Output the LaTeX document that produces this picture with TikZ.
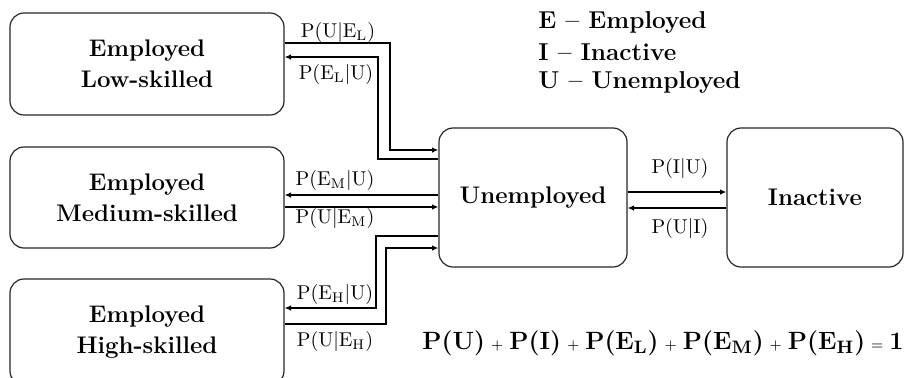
\documentclass[tikz,border=0pt]{standalone}
\usetikzlibrary{arrows.meta}
\newcommand{\opsym}[1]{\hspace{3pt}{\mdseries\scriptsize #1}\hspace{3pt}}
\begin{document}
\begin{tikzpicture}[x=0.5pt,y=-0.5pt,
  state/.style={draw=black!85,line width=0.6pt,rounded corners=7pt,align=center,font=\fontsize{12}{15.5}\selectfont\bfseries,inner sep=0pt},
  conn/.style={line width=1pt,-{Latex[length=3.2pt,width=2.8pt]}},
  lab/.style={font=\fontsize{10}{12}\selectfont,inner sep=0pt},
  legend/.style={font=\fontsize{12.2}{14}\selectfont\bfseries,anchor=west,inner sep=0pt}]
\useasboundingbox (0,0) rectangle (906,377);
\clip (0,0) rectangle (906,377);
\node[state,minimum width=137pt,minimum height=51pt] (L) at (147,64) {Employed\\Low-skilled};
\node[state,minimum width=137pt,minimum height=50.5pt] (M) at (147,197.5) {Employed\\Medium-skilled};
\node[state,minimum width=137pt,minimum height=53pt] (H) at (147,332) {Employed\\High-skilled};
\node[state,minimum width=94pt,minimum height=69.5pt] (U) at (533,197.5) {Unemployed};
\node[state,minimum width=88pt,minimum height=69.5pt] (I) at (815,197.5) {Inactive};
% L
\draw[conn] (L.east |- 0,43) -| (390,150) -- (U.west |- 0,150);
\draw[conn] (U.west |- 0,159) -| (378,57) -- (L.east |- 0,57);
% M
\draw[conn] (U.west |- 0,195) -- (M.east |- 0,195);
\draw[conn] (M.east |- 0,207) -- (U.west |- 0,207);
% H
\draw[conn] (U.west |- 0,236) -| (376,308) -- (H.east |- 0,308);
\draw[conn] (H.east |- 0,324) -| (386,248) -- (U.west |- 0,248);
% I
\draw[conn] (U.east |- 0,192) -- (I.west |- 0,192);
\draw[conn] (I.west |- 0,208) -- (U.east |- 0,208);
% labels
\node[lab] (l1) at (338,32) {P(U$|$E$_{\mathrm{L}}$)};
\node[lab] (l2) at (336,74) {P(E$_{\mathrm{L}}|$U)};
\node[lab] (l3) at (335,180) {P(E$_{\mathrm{M}}|$U)};
\node[lab] (l4) at (335,218) {P(U$|$E$_{\mathrm{M}}$)};
\node[lab] (l5) at (335,294) {P(E$_{\mathrm{H}}|$U)};
\node[lab] (l6) at (335,341) {P(U$|$E$_{\mathrm{H}}$)};
\node[lab] (l7) at (680,168) {P(I$|$U)};
\node[lab] (l8) at (680,228) {P(U$|$I)};
% legend
\node[legend] (g1) at (538,22) {E -- Employed};
\node[legend] (g2) at (538,52) {I -- Inactive};
\node[legend] (g3) at (538,82) {U -- Unemployed};
% equation
\node[font=\fontsize{12.5}{14}\selectfont\bfseries,inner sep=0pt,anchor=west] (eq) at (422,343)
  {P(U)\opsym{+}P(I)\opsym{+}P(E$_{\mathbf{L}}$)\opsym{+}P(E$_{\mathbf{M}}$)\opsym{+}P(E$_{\mathbf{H}}$)\opsym{=}1};
\end{tikzpicture}
\end{document}
